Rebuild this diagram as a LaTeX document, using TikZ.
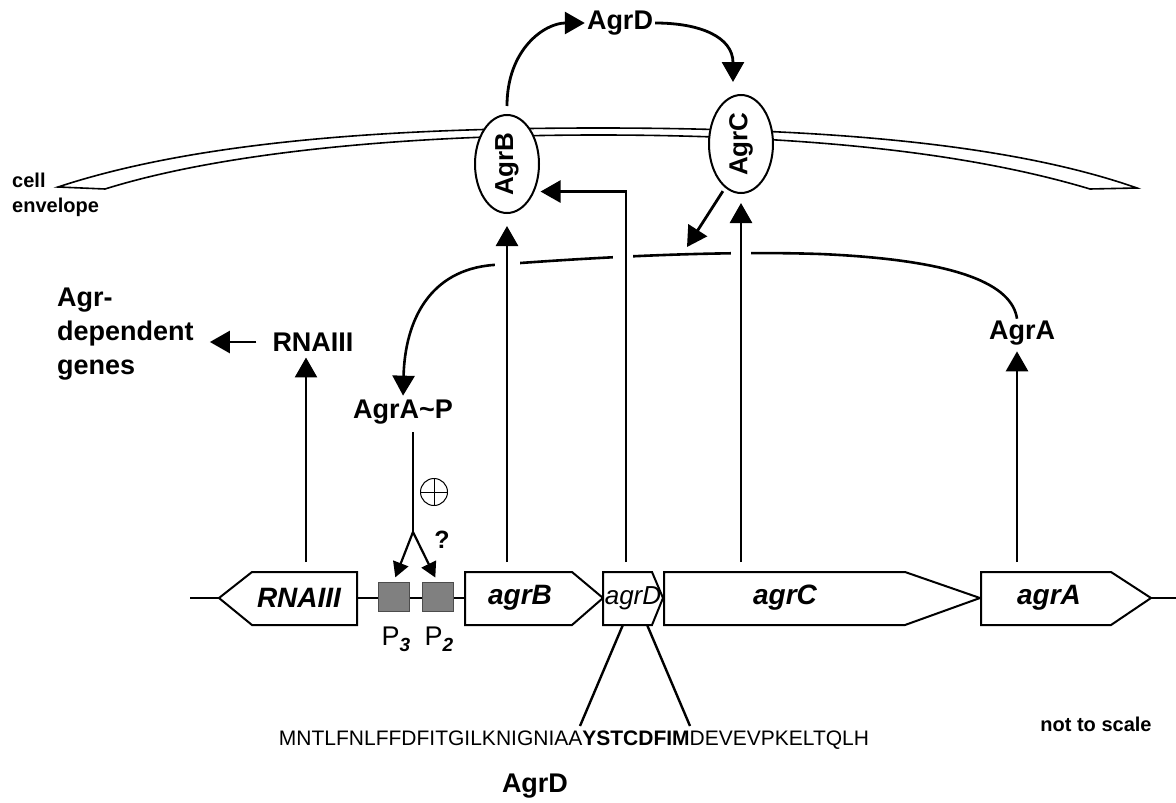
\documentclass[tikz,border=0pt]{standalone}
\usepackage{fontspec}
\setmainfont{Liberation Sans}
\usetikzlibrary{positioning,arrows.meta,shapes.geometric}

\begin{document}
\begin{tikzpicture}[x=1pt,y=-1pt,
lbl/.style={font=\fontsize{27}{34}\selectfont\bfseries,inner sep=2pt},
genelbl/.style={font=\fontsize{28}{32}\selectfont\bfseries\itshape,inner sep=0pt,minimum height=53pt},
gene/.style={draw=black,line width=2pt,fill=white,line join=miter},
act/.style={-{Triangle[length=20pt,width=22pt]},line width=2.8pt},
pact/.style={-{Triangle[length=15pt,width=16pt]},line width=2.2pt},
prot/.style={ellipse,draw=black,line width=2pt,fill=white,minimum width=64pt,minimum height=98pt,inner sep=0pt,font=\fontsize{26}{30}\selectfont\bfseries},
promoter/.style={draw=black!70,fill=black!50,line width=1pt,minimum width=31pt,minimum height=29pt,inner sep=0pt},
membrane/.style={line width=2.6pt},
envelope/.style={draw=black,fill=white,line width=1.6pt,line join=miter},
small/.style={font=\fontsize{20}{25}\selectfont\bfseries,inner sep=0pt}
]
\useasboundingbox (0,0) rectangle (1176,803);

% cell envelope and membrane proteins
\filldraw[envelope] (58,187) .. controls (200,140) and (400,128) .. (598,128) .. controls (800,128) and (1000,140) .. (1137,188) -- (1090,189) .. controls (960,150) and (790,135) .. (598,135) .. controls (420,135) and (230,150) .. (105,189) -- cycle;
\node[small,align=left,anchor=west] (envlbl) at (12,195) {cell\\envelope};
\node[prot] (AgrB) at (507,164) {\rotatebox{90}{AgrB}};
\node[prot] (AgrC) at (741,144) {\rotatebox{90}{AgrC}};
\node[lbl] (AgrDsig) at (620,23) {AgrD};
\draw[act,shorten <=8pt] (AgrB.north) .. controls +(0,-65) and +(-40,0) .. (AgrDsig.west);
\draw[act] (AgrDsig.east) .. controls +(45,0) and +(0,-45) .. ([shift={(-8,-12)}]AgrC.north);

% operon
\draw[line width=2pt] (190,598) -- (1176,598);
\draw[gene] (219,598) -- (252,572) -- (357,572) -- (357,625) -- (252,625) -- cycle;
\draw[gene] (465,572) -- (572,572) -- (603,598) -- (572,625) -- (465,625) -- cycle;
\draw[gene] (603,572) -- (652,572) -- (663,598) -- (652,625) -- (603,625) -- cycle;
\draw[gene] (664,572) -- (905,572) -- (980,598) -- (905,625) -- (664,625) -- cycle;
\draw[gene] (981,572) -- (1111,572) -- (1151,598) -- (1111,625) -- (981,625) -- cycle;
\node[genelbl] (RNAIIIgene) at (299,598) {RNAIII};
\node[genelbl] (agrB) at (520,598) {agrB};
\node[genelbl,font=\fontsize{26}{30}\selectfont\itshape] (agrD) at (633,598) {agrD};
\node[genelbl] (agrC) at (785,598) {agrC};
\node[genelbl] (agrA) at (1049,598) {agrA};
\node[promoter] (P3) at (393.5,597) {};
\node[promoter] (P2) at (437.5,597) {};
\node[lbl,font=\fontsize{27}{30}\selectfont] (P3lbl) at (396,639) {P\raisebox{-6pt}{\fontsize{19}{20}\selectfont\bfseries\itshape 3}};
\node[lbl,font=\fontsize{27}{30}\selectfont] (P2lbl) at (439,639) {P\raisebox{-6pt}{\fontsize{19}{20}\selectfont\bfseries\itshape 2}};

% regulators
\node[lbl] (RNAIIIp) at (313,342) {RNAIII};
\node[lbl,align=left,anchor=west] (targets) at (55,334) {Agr-\\dependent\\genes};
\node[lbl] (AgrAP) at (403,412) {AgrA\textasciitilde P};
\node[lbl] (AgrA) at (1022,333) {AgrA};
\coordinate (rnaOut) at (306,562);
\coordinate (agrBout) at (507,562);
\coordinate (agrDout) at (626,562);
\coordinate (agrCout) at (741,562);
\coordinate (agrAout) at (1017,562);
\coordinate (memhit) at (687,247);
\coordinate (fork) at (413,532);

\draw[membrane,-{Triangle[length=20pt,width=22pt]},shorten >=2pt] (agrAout |- AgrA.north) .. controls (1012,285) and (960,260) .. (820,254) .. controls (700,250) and (560,260) .. (493,265) .. controls (430,270) and (405,320) .. (AgrAP.north);
\fill[white] (495,252) rectangle (520,278);
\fill[white] (613,246) rectangle (633,270);
\fill[white] (731,242) rectangle (751,266);

\draw[act,shorten <=4pt] (AgrC.250) -- (memhit);
\draw[act,shorten >=4pt] (rnaOut) -- (rnaOut |- RNAIIIp.south);
\draw[act,shorten >=12pt] (agrBout) -- (AgrB.south);
\draw[act,shorten >=6pt] (agrDout) |- (AgrB.-45);
\draw[act,shorten >=9pt] (agrCout) -- (AgrC.south);
\draw[act,shorten >=4pt] (agrAout) -- (agrAout |- AgrA.south);
\draw[act,shorten <=14pt,shorten >=14pt] (RNAIIIp.west) -- (RNAIIIp.west -| targets.east);

\draw[line width=2.2pt,shorten <=6pt] (AgrAP.south -| fork) -- (fork);
\draw[pact,shorten >=5pt] (fork) -- (P3.north);
\draw[pact,shorten >=5pt] (fork) -- (P2.north);
\node[circle,draw,line width=1pt,minimum size=27pt,inner sep=0pt] (plus) at (434,492) {};
\draw[line width=1pt] (plus.west) -- (plus.east) (plus.north) -- (plus.south);
\node[lbl,font=\fontsize{25}{30}\selectfont\bfseries] (query) at (442,540) {?};

% AgrD propeptide
\node[font=\fontsize{21}{25}\selectfont,inner sep=1pt] (agrDseq) at (574,740) {MNTLFNLFFDFITGILKNIGNIAA\textbf{YSTCDFIM}DEVEVPKELTQLH};
\coordinate (aipL) at (580,726);
\coordinate (aipR) at (690,726);
\draw[line width=2.4pt] ([xshift=-10pt]agrD.south) -- (aipL);
\draw[line width=2.4pt] ([xshift=14pt]agrD.south) -- (aipR);
\node[lbl] (AgrDpep) at (535,786) {AgrD};
\node[small] (scale) at (1096,724) {not to scale};
\end{tikzpicture}
\end{document}
